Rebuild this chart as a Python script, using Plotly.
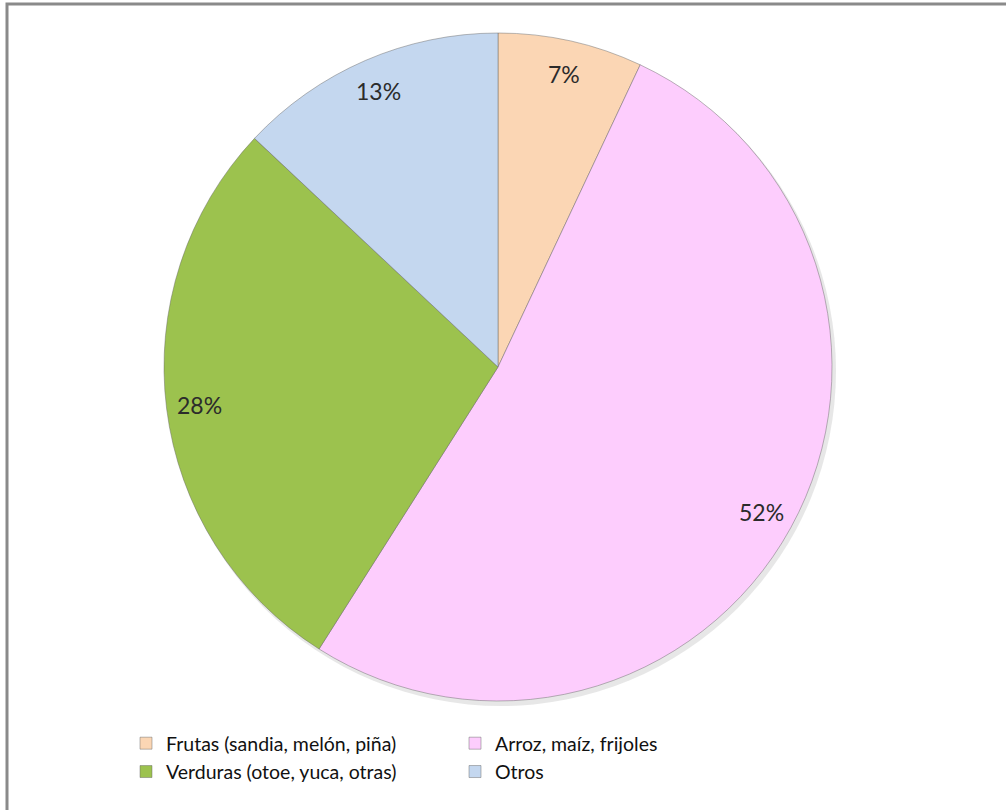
import math
import plotly.graph_objects as go

# Distribución de cultivos
categorias = [
    "Frutas (sandia, melón, piña)",
    "Arroz, maíz, frijoles",
    "Verduras (otoe, yuca, otras)",
    "Otros",
]
porcentajes = [7, 52, 28, 13]
colores = ["#FBD6B4", "#FDCDFD", "#9CC24E", "#C4D7EF"]

W, H = 1006, 810
MR = 40                  # right margin keeps the legend at two entries per row
WP = W - MR              # plot-area width used for paper coordinates
cx, cy, R = 498, 367, 334  # pie centre and radius in pixels


def px_x(x):
    return x / WP


def px_y(y):
    return 1 - y / H


fig = go.Figure()

fig.add_trace(go.Pie(
    labels=categorias,
    values=porcentajes,
    sort=False,
    direction="clockwise",
    rotation=0,
    marker=dict(colors=colores, line=dict(color="rgba(100,100,100,0.45)", width=1)),
    textinfo="none",
    hoverinfo="label+percent",
    domain=dict(x=[px_x(cx - R), px_x(cx + R)], y=[px_y(cy + R), px_y(cy - R)]),
    showlegend=True,
))

# percentage labels placed at ~0.9 R along each slice's mid angle
total = sum(porcentajes)
anots = []
acum = 0
for v in porcentajes:
    mid = (acum + v / 2) / total * 2 * math.pi
    acum += v
    lx = cx + 0.9 * R * math.sin(mid)
    ly = cy - 0.9 * R * math.cos(mid)
    anots.append(dict(
        x=px_x(lx), y=px_y(ly), xref="paper", yref="paper",
        xanchor="center", yanchor="middle",
        text=f"{v}%", showarrow=False,
        font=dict(family="Lato, Open Sans, sans-serif", size=23, color="#2b2b2b"),
    ))

shapes = [
    # soft shadow under the pie
    dict(type="circle", xref="paper", yref="paper", layer="below",
         x0=px_x(cx - R + 2), x1=px_x(cx + R + 4),
         y0=px_y(cy + R + 5), y1=px_y(cy - R + 3),
         fillcolor="rgba(120,120,120,0.18)", line=dict(width=0)),
    # chart frame (top and left edges visible)
    dict(type="rect", xref="paper", yref="paper",
         x0=px_x(7), x1=px_x(W + 20), y0=px_y(H + 20), y1=px_y(4),
         line=dict(color="#8a8a8a", width=3), fillcolor="rgba(0,0,0,0)"),
]

fig.update_layout(
    width=W, height=H,
    margin=dict(l=0, r=MR, t=0, b=0, autoexpand=False),
    paper_bgcolor="white",
    plot_bgcolor="white",
    annotations=anots,
    shapes=shapes,
    legend=dict(
        orientation="h",
        x=px_x(126), y=px_y(724), xanchor="left", yanchor="top",
        entrywidth=284, entrywidthmode="pixels",
        font=dict(family="Lato, Open Sans, sans-serif", size=19.5, color="#111111"),
        itemwidth=30, tracegroupgap=0,
        bgcolor="rgba(0,0,0,0)",
    ),
)

fig.write_html("out.html")
